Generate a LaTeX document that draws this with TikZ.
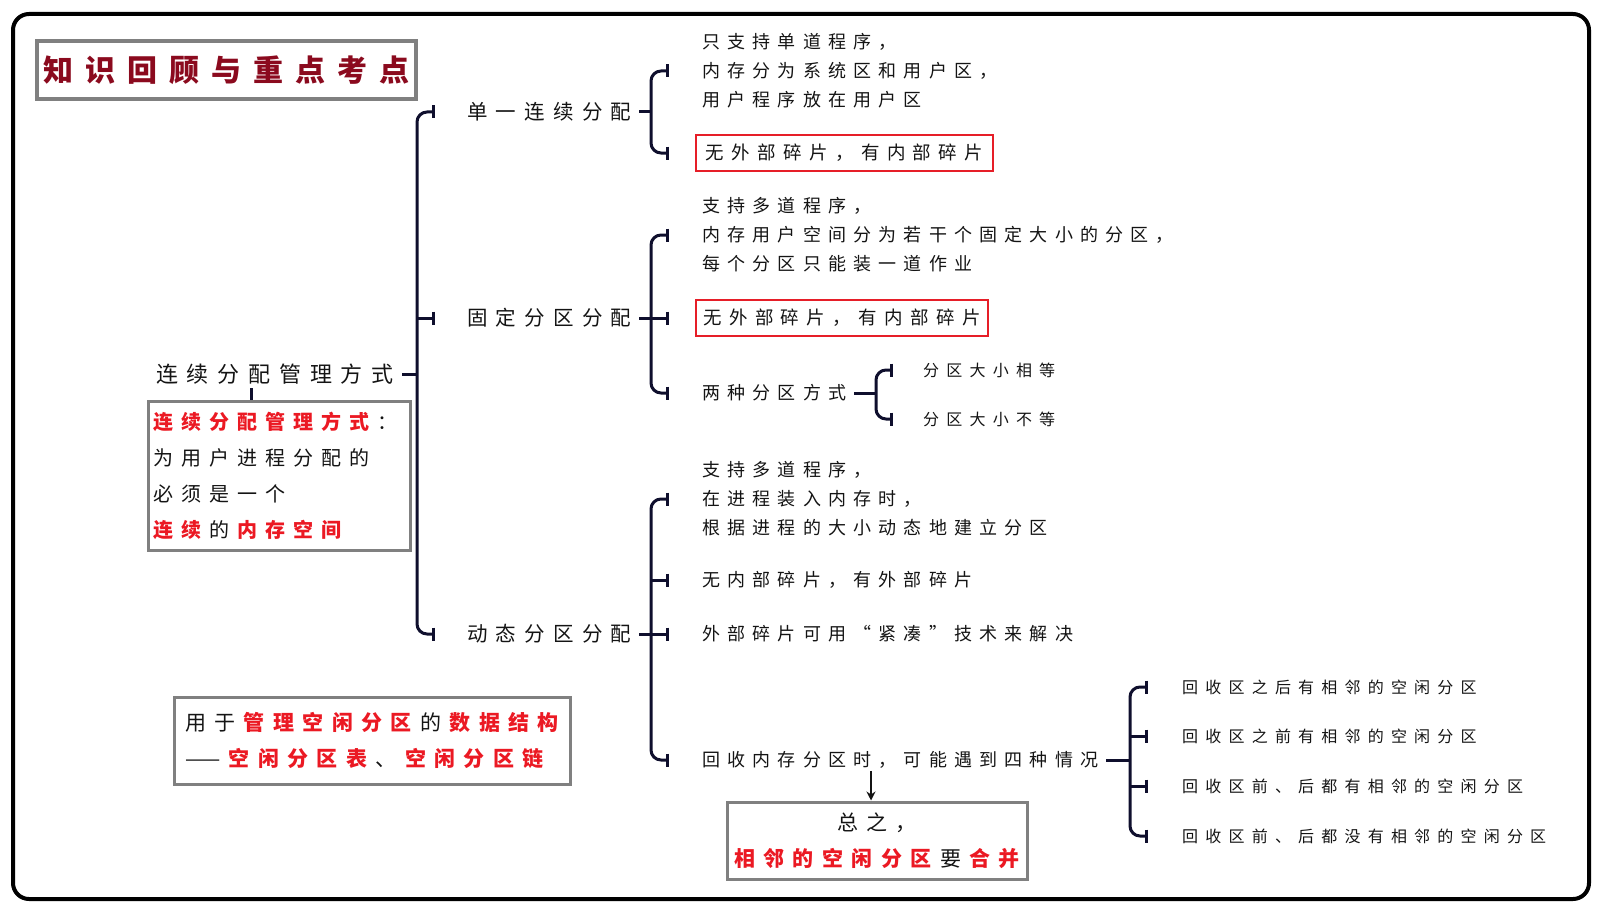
\documentclass[tikz,border=0pt]{standalone}
\usepackage{fontspec}
\setmainfont{Noto Sans CJK SC}[LetterSpace=40]
\usetikzlibrary{arrows.meta,calc}
\definecolor{ink}{RGB}{20,20,20}
\definecolor{titlered}{RGB}{139,10,30}
\definecolor{hot}{RGB}{235,25,35}
\definecolor{brkc}{RGB}{15,15,45}
\definecolor{boxgray}{RGB}{128,128,128}
\definecolor{boxred}{RGB}{230,30,40}
\newcommand{\hs}{\hspace{0.4em}}
\newcommand{\hl}[1]{{\bfseries\color{hot}#1}\hs}
\tikzset{
  txt/.style={inner sep=0pt, anchor=west, text=ink, align=left, font=\fontsize{18}{29}\selectfont},
  lvlone/.style={txt, font=\fontsize{20.5}{24}\selectfont},
  smalltxt/.style={txt, font=\fontsize{16}{20}\selectfont\addfontfeature{LetterSpace=45}},
  redbox/.style={draw=boxred, line width=2pt, anchor=west, text=ink, inner sep=0pt, minimum width=297pt, minimum height=36pt, font=\fontsize{18.5}{22}\selectfont},
  graybox/.style={draw=boxgray, line width=3pt, text=ink},
  brk/.style={draw=brkc, line width=3pt, rounded corners=10pt},
  bars/.style={brk, {Bar[width=13pt]}-{Bar[width=13pt]}},
  onebar/.style={brk, -{Bar[width=13pt]}},
}
\begin{document}
\begin{tikzpicture}[x=1pt,y=-1pt]
\useasboundingbox (0,0) rectangle (1602,915);
\draw[line width=4pt, rounded corners=16pt] (13,14) rectangle (1589,899);

% title
\node[graybox, line width=4pt, minimum width=379pt, minimum height=58pt, inner sep=0pt,
      font=\fontsize{30}{30}\selectfont\bfseries, text=titlered] (title) at (226.5,70) {知识回顾与重点考点};

% bracket x positions
\coordinate (B0) at (417,0); \coordinate (B0t) at (435,0);
\coordinate (B1) at (651,0); \coordinate (B1t) at (669,0);
\coordinate (B3) at (876,0); \coordinate (B3t) at (893,0);
\coordinate (B5) at (1130,0); \coordinate (B5t) at (1148,0);
\coordinate (AX) at (871,0); \coordinate (LX) at (251,0);

% root
\node[txt, font=\fontsize{22}{26}\selectfont] (main) at (156,374) {连续分配管理方式};
\node[graybox, anchor=north west, minimum width=260pt, minimum height=149pt, inner xsep=5pt,
      text width=252pt, align=left, font=\fontsize{20}{36}\selectfont] (defbox) at (147,400)
  {\hl{连续分配管理方式}：\\为用户进程分配的\\必须是一个\\\hl{连续}的\hs\hl{内存空间}};
\draw[brk] ([yshift=-4pt]main.south -| LX) -- (defbox.north -| LX);

% level 1
\node[lvlone] (s1) at (467,112) {单一连续分配};
\node[lvlone] (s2) at (467,318) {固定分区分配};
\node[lvlone] (s3) at (467,634) {动态分区分配};
\draw[brk] ([xshift=8pt]main.east) -- (B0 |- main.east);
\draw[bars] (B0t |- s1) -- (B0 |- s1) -- (B0 |- s3) -- (B0t |- s3);
\draw[onebar] (B0 |- s2) -- (B0t |- s2);

% single contiguous
\node[txt] (t1) at (702,71) {只支持单道程序，\\内存分为系统区和用户区，\\用户程序放在用户区};
\node[redbox] (nf1) at (695,153) {无外部碎片，有内部碎片};
\draw[brk] ([xshift=8pt]s1.east) -- (B1 |- s1);
\draw[bars] (B1t |- t1) -- (B1 |- t1) -- (B1 |- nf1) -- (B1t |- nf1);

% fixed partition
\node[txt] (t2) at (702,235) {支持多道程序，\\内存用户空间分为若干个固定大小的分区，\\每个分区只能装一道作业};
\node[redbox, minimum width=292pt] (nf2) at (695,318) {无外部碎片，有内部碎片};
\node[txt] (two) at (702,393) {两种分区方式};
\draw[brk] ([xshift=8pt]s2.east) -- (B1 |- s2);
\draw[bars] (B1t |- t2) -- (B1 |- t2) -- (B1 |- two) -- (B1t |- two);
\draw[onebar] (B1 |- nf2) -- (B1t |- nf2);

\node[smalltxt] (eq) at (923,370) {分区大小相等};
\node[smalltxt] (neq) at (923,419) {分区大小不等};
\draw[brk] ([xshift=8pt]two.east) -- (B3 |- two);
\draw[bars] (B3t |- eq) -- (B3 |- eq) -- (B3 |- neq) -- (B3t |- neq);

% dynamic partition
\node[txt] (t3) at (702,499) {支持多道程序，\\在进程装入内存时，\\根据进程的大小动态地建立分区};
\node[txt] (t4) at (702,580) {无内部碎片，有外部碎片};
\node[txt] (t5) at (702,634) {外部碎片可用“紧凑”技术来解决};
\node[txt] (recl) at (702,760) {回收内存分区时，可能遇到四种情况};
\draw[brk] ([xshift=8pt]s3.east) -- (B1 |- s3);
\draw[bars] (B1t |- t3) -- (B1 |- t3) -- (B1 |- recl) -- (B1t |- recl);
\draw[onebar] (B1 |- t4) -- (B1t |- t4);
\draw[onebar] (B1 |- t5) -- (B1t |- t5);

\node[smalltxt] (r1) at (1182,687) {回收区之后有相邻的空闲分区};
\node[smalltxt] (r2) at (1182,736) {回收区之前有相邻的空闲分区};
\node[smalltxt] (r3) at (1182,786) {回收区前、后都有相邻的空闲分区};
\node[smalltxt] (r4) at (1182,836) {回收区前、后都没有相邻的空闲分区};
\draw[brk] ([xshift=8pt]recl.east) -- (B5 |- recl);
\draw[bars] (B5t |- r1) -- (B5 |- r1) -- (B5 |- r4) -- (B5t |- r4);
\draw[onebar] (B5 |- r2) -- (B5t |- r2);
\draw[onebar] (B5 |- r3) -- (B5t |- r3);

% summary
\node[graybox, minimum width=300pt, minimum height=77pt, align=center, inner sep=0pt,
      font=\fontsize{21}{36}\selectfont] (sum) at (877,840.5)
  {总之，\\\hl{相邻的空闲分区}要\hs{\bfseries\color{hot}合并}};
\draw[line width=2pt, draw=ink, -{Stealth[length=9pt,width=9pt]}] ([yshift=-2pt]recl.south -| AX) -- (sum.north -| AX);

% data structure box
\node[graybox, minimum width=396pt, minimum height=87pt, align=left, inner sep=0pt,
      font=\fontsize{21}{36}\selectfont] (ds) at (372,740.5)
  {用于\hs\hl{管理空闲分区}的\hs{\bfseries\color{hot}数据结构}\\——\hs\hl{空闲分区表}、\hs{\bfseries\color{hot}空闲分区链}};
\end{tikzpicture}
\end{document}
